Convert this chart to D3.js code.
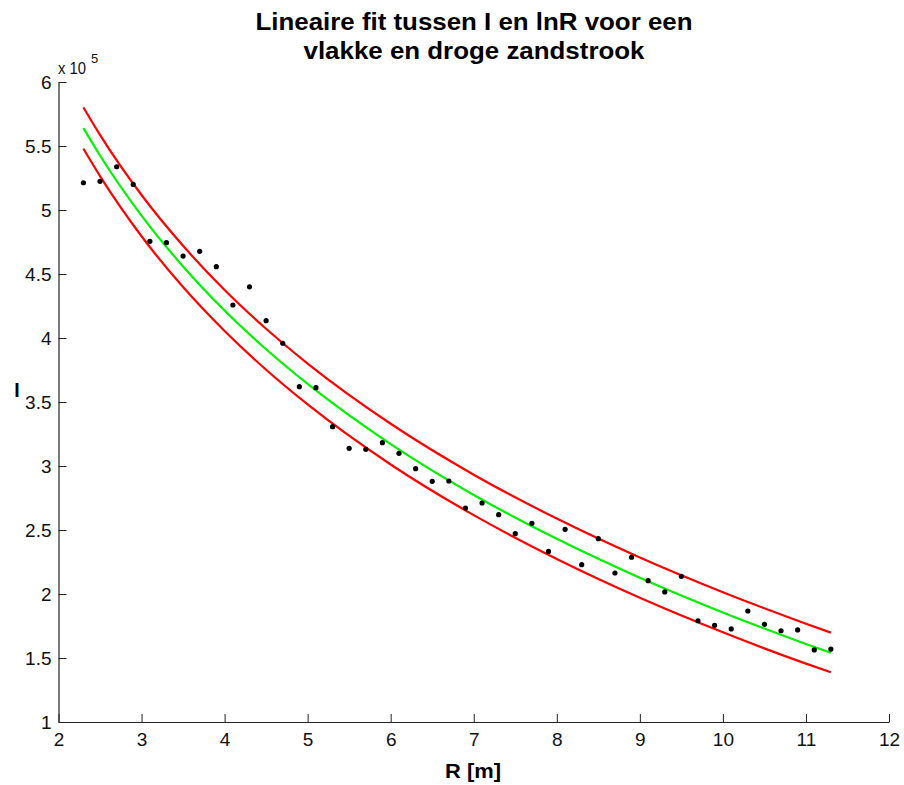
<!DOCTYPE html>
<html>
<head>
<meta charset="utf-8">
<script src="https://cdn.jsdelivr.net/npm/d3@7"></script>
<style>
  html, body { margin: 0; padding: 0; background: #fff; }
  svg { display: block; font-family: "Liberation Sans", Arial, Helvetica, sans-serif; }
</style>
</head>
<body>
<svg id="chart" width="904" height="785"></svg>
<script>
// ---- data (I in units of 1e5) ----
const measR = [2.3,2.5,2.7,2.9,3.1,3.3,3.5,3.7,3.9,4.1,4.3,4.5,4.7,4.9,5.1,5.3,5.5,5.7,5.9,6.1,6.3,6.5,6.7,6.9,7.1,7.3,7.5,7.7,7.9,8.1,8.3,8.5,8.7,8.9,9.1,9.3,9.5,9.7,9.9,10.1,10.3,10.5,10.7,10.9,11.1,11.3];
const measI = [5.213,5.224,5.338,5.200,4.755,4.745,4.640,4.677,4.557,4.258,4.400,4.135,3.959,3.620,3.612,3.307,3.138,3.130,3.182,3.099,2.979,2.880,2.883,2.672,2.711,2.620,2.471,2.552,2.333,2.505,2.229,2.432,2.164,2.287,2.104,2.016,2.138,1.791,1.755,1.727,1.867,1.763,1.713,1.719,1.563,1.570];

const fitR     = [2.3,2.5,3,3.5,4,4.5,5,6,7,8,9,10,11,11.3];
const fitI     = [5.640,5.426,4.956,4.559,4.215,3.912,3.641,3.171,2.774,2.431,2.127,1.856,1.610,1.541];
const upperI   = [5.802,5.587,5.117,4.720,4.375,4.072,3.800,3.330,2.932,2.589,2.285,2.014,1.768,1.698];
const lowerI   = [5.479,5.265,4.795,4.398,4.055,3.752,3.481,3.012,2.616,2.274,1.971,1.701,1.456,1.388];

const xTicks = [2,3,4,5,6,7,8,9,10,11,12];
const yTicks = [1,1.5,2,2.5,3,3.5,4,4.5,5,5.5,6];

const titleLines = ["Lineaire fit tussen I en lnR voor een", "vlakke en droge zandstrook"];
const xLabel = "R [m]";
const yLabel = "I";

// ---- layout ----
const svg = d3.select("#chart");
const mLeft = 58.5, mRight = 889, mTop = 82, mBottom = 722;

const x = d3.scaleLinear().domain([2, 12]).range([mLeft, mRight]);
const y = d3.scaleLinear().domain([1, 6]).range([mBottom, mTop]);

// axes
const xAxis = d3.axisBottom(x).tickValues(xTicks).tickFormat(d3.format("d"))
  .tickSizeInner(-8).tickSizeOuter(0).tickPadding(11);
const yAxis = d3.axisLeft(y).tickValues(yTicks).tickFormat(d => String(d))
  .tickSizeInner(-8).tickSizeOuter(0).tickPadding(7);

const gx = svg.append("g").attr("transform", `translate(0,${mBottom})`).call(xAxis);
const gy = svg.append("g").attr("transform", `translate(${mLeft},0)`).call(yAxis);
[gx, gy].forEach(g => {
  g.select(".domain").attr("stroke", "#222").attr("stroke-width", 1.2);
  g.selectAll(".tick line").attr("stroke", "#222").attr("stroke-width", 1);
  g.selectAll(".tick text").attr("fill", "#111").style("font-size", "19px")
    .style("font-family", "'Liberation Sans', Arial, sans-serif");
});

// curves
const line = (vals) => d3.line().x((d, i) => x(fitR[i])).y(d => y(d)).curve(d3.curveMonotoneX)(vals);
svg.append("path").attr("d", line(upperI)).attr("fill", "none").attr("stroke", "#ff0000").attr("stroke-width", 2.2);
svg.append("path").attr("d", line(lowerI)).attr("fill", "none").attr("stroke", "#ff0000").attr("stroke-width", 2.2);
svg.append("path").attr("d", line(fitI)).attr("fill", "none").attr("stroke", "#00f000").attr("stroke-width", 2.2);

// measured points
svg.append("g").selectAll("circle").data(measR).join("circle")
  .attr("cx", d => x(d)).attr("cy", (d, i) => y(measI[i])).attr("r", 2.6).attr("fill", "#000");

// title
svg.append("text").attr("x", 474).attr("y", 29.5).attr("text-anchor", "middle")
  .attr("textLength", 437).attr("lengthAdjust", "spacingAndGlyphs")
  .style("font-size", "23px").style("font-weight", "bold").attr("fill", "#000").text(titleLines[0]);
svg.append("text").attr("x", 474).attr("y", 58.5).attr("text-anchor", "middle")
  .attr("textLength", 341).attr("lengthAdjust", "spacingAndGlyphs")
  .style("font-size", "23px").style("font-weight", "bold").attr("fill", "#000").text(titleLines[1]);

// exponent
svg.append("text").attr("x", 58).attr("y", 74).attr("textLength", 28).attr("lengthAdjust", "spacingAndGlyphs")
  .style("font-size", "17px").attr("fill", "#111").text("x 10");
svg.append("text").attr("x", 91).attr("y", 63).style("font-size", "13px").attr("fill", "#111").text("5");

// axis labels
svg.append("text").attr("x", 473).attr("y", 778).attr("text-anchor", "middle")
  .attr("textLength", 56).attr("lengthAdjust", "spacingAndGlyphs")
  .style("font-size", "19.5px").style("font-weight", "bold").attr("fill", "#000").text(xLabel);
svg.append("text").attr("x", 17).attr("y", 397).attr("text-anchor", "middle")
  .style("font-size", "19.5px").style("font-weight", "bold").attr("fill", "#000").text(yLabel);
</script>
</body>
</html>
